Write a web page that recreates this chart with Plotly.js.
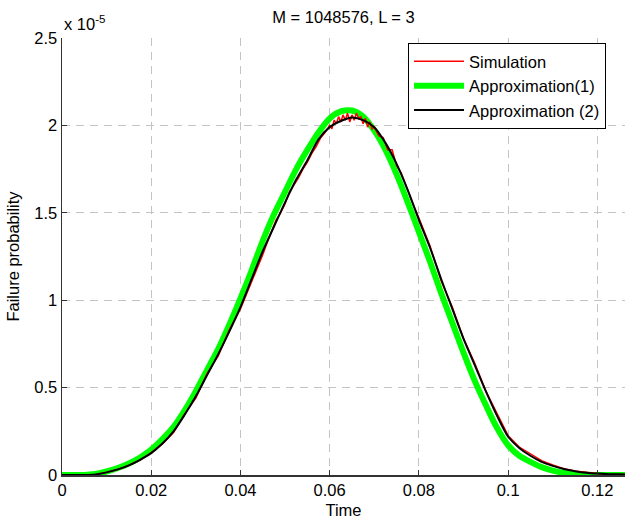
<!DOCTYPE html>
<html>
<head>
<meta charset="utf-8">
<script src="https://cdn.plot.ly/plotly-3.0.1.min.js"></script>
<style>html,body{margin:0;padding:0;background:#fff;}#chart{width:625px;height:520px;}</style>
</head>
<body>
<div id="chart"></div>
<script>
// Values in units of 1e-5 (axis multiplier shown as "x 10^-5")
var approxT = [0,0.0025,0.005,0.0075,0.01,0.0125,0.015,0.0175,0.02,0.0225,0.025,0.0275,0.03,0.0325,0.035,0.0375,0.04,0.0425,0.045,0.0475,0.05,0.0525,0.055,0.0575,0.06,0.0625,0.065,0.0675,0.07,0.0725,0.075,0.0775,0.08,0.0825,0.085,0.0875,0.09,0.0925,0.095,0.0975,0.1,0.1025,0.105,0.1075,0.11,0.1125,0.115,0.1175,0.12,0.1225,0.125,0.1275];
var approx1 = [0,0,0,0.006,0.02,0.04,0.066,0.10,0.145,0.205,0.275,0.37,0.48,0.60,0.72,0.86,1.01,1.17,1.34,1.49,1.62,1.75,1.86,1.96,2.04,2.08,2.085,2.05,1.97,1.86,1.72,1.56,1.39,1.22,1.04,0.87,0.70,0.54,0.40,0.27,0.17,0.11,0.075,0.045,0.025,0.012,0.005,0.002,0,0,0,0];
var approx2 = [0,0,0,0.003,0.015,0.032,0.055,0.087,0.125,0.18,0.25,0.345,0.45,0.57,0.69,0.82,0.96,1.12,1.28,1.42,1.56,1.69,1.80,1.92,1.99,2.025,2.045,2.03,1.99,1.90,1.78,1.63,1.46,1.30,1.12,0.95,0.78,0.63,0.48,0.34,0.22,0.155,0.11,0.075,0.052,0.034,0.022,0.013,0.008,0.005,0.004,0.003];
var simT = [0,0.0025,0.005,0.0075,0.01,0.0125,0.015,0.0175,0.02,0.0225,0.025,0.0275,0.03,0.0325,0.035,0.0375,0.04,0.0425,0.044,0.045,0.046,0.047,0.048,0.049,0.05,0.051,0.052,0.053,0.054,0.055,0.056,0.057,0.058,0.059,0.06,0.0605,0.061,0.0615,0.062,0.0625,0.063,0.0635,0.064,0.0645,0.065,0.0655,0.066,0.0665,0.067,0.0675,0.068,0.0685,0.069,0.0695,0.07,0.071,0.072,0.073,0.074,0.075,0.076,0.077,0.078,0.079,0.08,0.0825,0.085,0.0875,0.09,0.0925,0.095,0.0975,0.1,0.1025,0.105,0.1075,0.11,0.1125,0.115,0.1175,0.12,0.1225,0.125,0.1275];
var simV = [0,0,0,0.003,0.016,0.031,0.056,0.086,0.128,0.178,0.243,0.35,0.44,0.58,0.68,0.83,0.95,1.10,1.19,1.26,1.33,1.39,1.46,1.50,1.55,1.62,1.66,1.70,1.75,1.79,1.84,1.88,1.93,1.96,2.00,1.98,2.03,2.01,2.05,2.02,2.06,2.03,2.07,2.02,2.06,2.03,2.07,2.04,2.05,2.01,2.04,1.99,2.02,1.98,1.99,1.94,1.93,1.86,1.86,1.77,1.73,1.66,1.60,1.53,1.47,1.31,1.11,0.96,0.78,0.64,0.48,0.35,0.225,0.16,0.12,0.082,0.057,0.036,0.023,0.014,0.008,0.005,0.004,0.003];
var xTicks = [0,0.02,0.04,0.06,0.08,0.1,0.12];
var yTicks = [0,0.5,1,1.5,2,2.5];

var FONT = 'Liberation Sans, Arial, Helvetica, sans-serif';
var FS = 16.5;
var traces = [
  {x: approxT, y: approx1, type:'scatter', mode:'lines', name:'Approximation(1)', legendrank: 2,
   line:{color:'#00ff00', width:6, shape:'spline', smoothing:0.8}},
  {x: simT, y: simV, type:'scatter', mode:'lines', name:'Simulation', legendrank: 1,
   line:{color:'#ff0000', width:1.5}},
  {x: approxT, y: approx2, type:'scatter', mode:'lines', name:'Approximation (2)', legendrank: 3,
   line:{color:'#000000', width:2, shape:'spline', smoothing:0.8}}
];
var axisCommon = {
  showline:true, linecolor:'#333', linewidth:1.5, mirror:false,
  showgrid:true, gridcolor:'#c4c4c4', gridwidth:1, griddash:'8px,6px',
  zeroline:false, ticks:'inside', ticklen:5, tickcolor:'#333',
  tickfont:{family:FONT, size:FS, color:'#000'}
};
var layout = {
  width:625, height:520,
  margin:{l:62, r:0, t:38, b:45},
  paper_bgcolor:'#fff', plot_bgcolor:'#fff',
  font:{family:FONT, size:FS, color:'#000'},
  title:{text:'M = 1048576, L = 3', x:0.5, xref:'paper', xanchor:'center', y:1-17/520, yref:'container', yanchor:'middle',
         font:{family:FONT, size:FS, color:'#000'}},
  xaxis: Object.assign({}, axisCommon, {range:[0,0.1262], tickvals:xTicks, ticktext:xTicks.map(String),
         title:{text:'Time', font:{family:FONT, size:FS}, standoff:6}}),
  yaxis: Object.assign({}, axisCommon, {range:[0,2.5], tickvals:yTicks, ticktext:yTicks.map(String),
         title:{text:'Failure probability', font:{family:FONT, size:FS}, standoff:10}}),
  showlegend:true,
  legend:{x:0.6146, y:0.9886, xanchor:'left', yanchor:'top', bgcolor:'#fff', bordercolor:'#000', borderwidth:1,
          font:{family:FONT, size:FS, color:'#000'}, traceorder:'normal', itemwidth:50, tracegroupgap:0},
  annotations:[
    {text:'x 10<sup>-5</sup>', xref:'paper', yref:'paper', x:0, y:1, xanchor:'left', yanchor:'bottom', yshift:3, showarrow:false,
     font:{family:FONT, size:FS, color:'#000'}}
  ]
};
Plotly.newPlot('chart', traces, layout, {displayModeBar:false, staticPlot:true});
</script>
</body>
</html>
